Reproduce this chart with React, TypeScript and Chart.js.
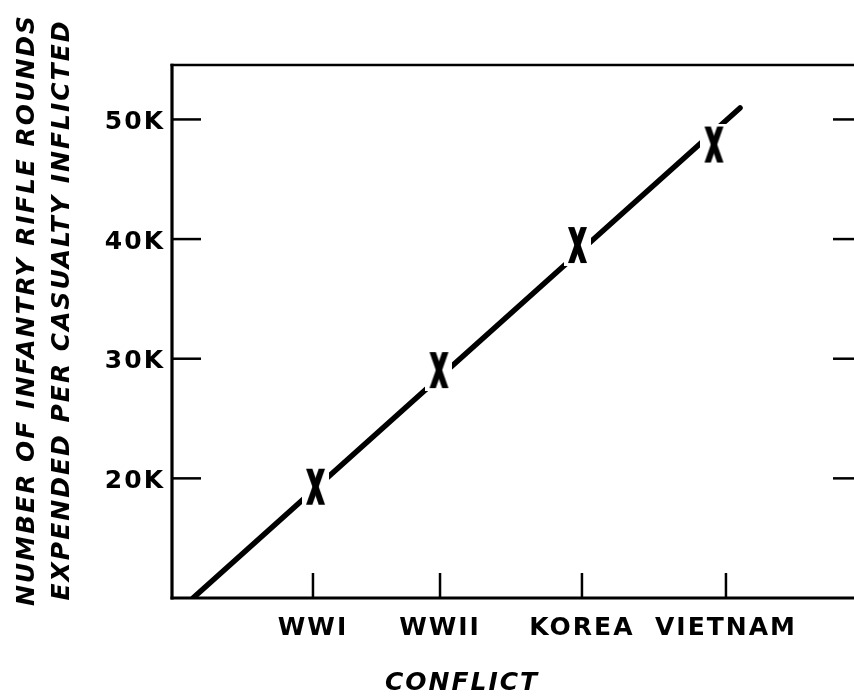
import React, { useEffect, useRef } from 'react';
import { Chart, registerables } from 'chart.js';

Chart.register(...registerables);

// ---- data ----
const CONFLICTS = ['WWI', 'WWII', 'KOREA', 'VIETNAM'];
const CONFLICT_POS = [20.46, 38.9, 59.5, 80.4];
const MARKER_X = [20.83, 38.75, 58.85, 78.66];
const ROUNDS_K = [19.3, 29.05, 39.5, 47.9];
const TREND_X = [3.05, 82.44];
const TREND_K = [10, 50.96];
const Y_TICKS = [20, 30, 40, 50];
const Y_TITLE = ['NUMBER OF INFANTRY RIFLE ROUNDS', 'EXPENDED PER CASUALTY INFLICTED'];
const X_TITLE = 'CONFLICT';

const FONT_FAMILY = '"DejaVu Sans", "Liberation Sans", Arial, sans-serif';
const SPACING = '2px';

function makeXMarker(): HTMLCanvasElement {
  const c = document.createElement('canvas');
  c.width = 27;
  c.height = 42;
  const g = c.getContext('2d')!;
  g.fillStyle = '#fff';
  g.fillRect(0, 0, 27, 42);
  g.fillStyle = '#000';
  const ox = 4;
  const oy = 3;
  const W = 19;
  const H = 36;
  const w = 6.3;
  g.beginPath();
  g.moveTo(ox + 0, oy + 0);
  g.lineTo(ox + w, oy + 0);
  g.lineTo(ox + W, oy + H);
  g.lineTo(ox + W - w, oy + H);
  g.closePath();
  g.fill();
  g.beginPath();
  g.moveTo(ox + W - w, oy + 0);
  g.lineTo(ox + W, oy + 0);
  g.lineTo(ox + w, oy + H);
  g.lineTo(ox + 0, oy + H);
  g.closePath();
  g.fill();
  return c;
}

const framePlugin = {
  id: 'frameAndTitles',
  beforeUpdate(chart: any) {
    chart.ctx.letterSpacing = SPACING;
  },
  beforeDraw(chart: any) {
    chart.ctx.letterSpacing = SPACING;
  },
  afterDraw(chart: any) {
    const { ctx, chartArea: a, scales } = chart;
    ctx.save();
    ctx.strokeStyle = '#000';
    ctx.lineCap = 'butt';
    const line = (x1: number, y1: number, x2: number, y2: number, w: number) => {
      ctx.lineWidth = w;
      ctx.beginPath();
      ctx.moveTo(x1, y1);
      ctx.lineTo(x2, y2);
      ctx.stroke();
    };
    // frame
    line(a.left - 1.5, a.top, a.right, a.top, 2.5);
    line(a.right, a.top, a.right, a.bottom, 2.5);
    line(a.left, a.top - 1.2, a.left, a.bottom + 1.5, 3.2);
    line(a.left - 1.5, a.bottom, a.right, a.bottom, 3);
    // inward tick marks
    Y_TICKS.forEach((v) => {
      const y = scales.y.getPixelForValue(v);
      line(a.left, y, a.left + 29, y, 2.5);
      line(a.right - 28, y, a.right, y, 2.5);
    });
    CONFLICT_POS.forEach((p) => {
      const x = scales.x.getPixelForValue(p);
      line(x, a.bottom, x, a.bottom - 25, 2.5);
    });
    // axis titles
    ctx.fillStyle = '#000';
    ctx.font = `italic bold 25px ${FONT_FAMILY}`;
    ctx.letterSpacing = SPACING;
    ctx.textAlign = 'center';
    ctx.textBaseline = 'middle';
    Y_TITLE.forEach((t, i) => {
      ctx.save();
      ctx.translate(i === 0 ? 27 : 62, 310);
      ctx.rotate(-Math.PI / 2);
      ctx.fillText(t, 0, 0);
      ctx.restore();
    });
    ctx.fillText(X_TITLE, 462, 683);
    ctx.restore();
  },
};

export default function App() {
  const ref = useRef<HTMLCanvasElement | null>(null);

  useEffect(() => {
    if (!ref.current) return;
    const marker = makeXMarker();
    const tickFont = { family: FONT_FAMILY, size: 25, weight: 'bold' as const };
    const chart = new Chart(ref.current, {
      type: 'scatter',
      data: {
        datasets: [
          {
            label: 'trend',
            data: TREND_X.map((x, i) => ({ x, y: TREND_K[i] })),
            showLine: true,
            borderColor: '#000',
            borderWidth: 5.5,
            borderCapStyle: 'round',
            pointRadius: 0,
            order: 2,
          },
          {
            label: 'rounds',
            data: MARKER_X.map((x, i) => ({ x, y: ROUNDS_K[i] })),
            showLine: false,
            pointStyle: marker as any,
            backgroundColor: '#000',
            borderColor: '#000',
            order: 1,
          },
        ],
      },
      options: {
        responsive: false,
        animation: false,
        events: [],
        layout: { padding: { left: 0, right: 19, top: 65, bottom: 0 } },
        plugins: {
          legend: { display: false },
          tooltip: { enabled: false },
          title: { display: false },
        },
        scales: {
          x: {
            type: 'linear',
            position: 'bottom',
            min: 0,
            max: 100,
            afterBuildTicks: (s: any) => {
              s.ticks = CONFLICT_POS.map((v) => ({ value: v }));
            },
            afterFit: (s: any) => {
              s.height = 99;
            },
            grid: { display: false, drawTicks: false },
            border: { display: false },
            ticks: {
              autoSkip: false,
              maxRotation: 0,
              minRotation: 0,
              padding: 15,
              color: '#000',
              font: tickFont,
              callback: (_v: any, i: number) => CONFLICTS[i],
            },
          },
          y: {
            type: 'linear',
            position: 'left',
            min: 10,
            max: 54.55,
            afterBuildTicks: (s: any) => {
              s.ticks = Y_TICKS.map((v) => ({ value: v }));
            },
            afterFit: (s: any) => {
              s.width = 172;
            },
            grid: { display: false, drawTicks: false },
            border: { display: false },
            ticks: {
              autoSkip: false,
              padding: 7,
              labelOffset: 3,
              color: '#000',
              font: tickFont,
              callback: (v: any) => `${v}K`,
            },
          },
        },
      },
      plugins: [framePlugin],
    });
    return () => chart.destroy();
  }, []);

  return (
    <div
      style={{
        position: 'fixed',
        left: 0,
        top: 0,
        width: 854,
        height: 697,
        overflow: 'hidden',
        background: '#fff',
      }}
    >
      <canvas ref={ref} width={880} height={697} style={{ display: 'block' }} />
    </div>
  );
}
